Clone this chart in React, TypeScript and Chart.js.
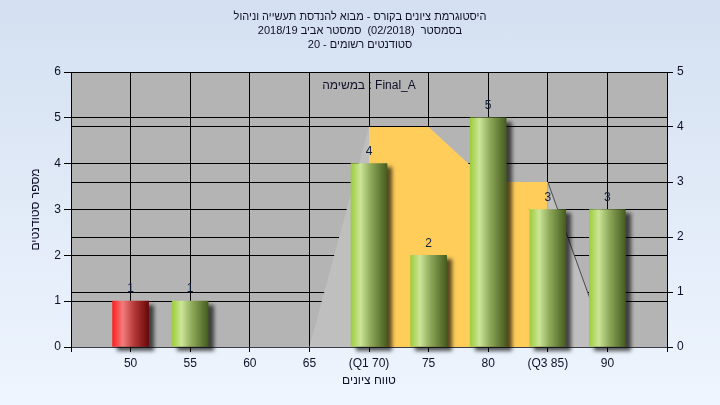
import { useEffect, useRef } from 'react';
import { Chart, registerables } from 'chart.js';

Chart.register(...registerables);

// Histogram bins and the number of students in each
const gradeBins = [50, 55, 60, 65, 70, 75, 80, 85, 90];
const binLabels = ['50', '55', '60', '65', '(Q1 70)', '75', '80', '(Q3 85)', '90'];
const studentCounts = [1, 1, 0, 0, 4, 2, 5, 3, 3];
const failingBins = [50];

// Background distribution outline (right axis)
const curveBins = [65, 70, 75, 80, 85, 90];
const curveValues = [0, 4, 4, 3, 3, 0];

// Inter-quartile band Q1..Q3 (right axis)
const quartileBins = [70, 75, 80, 85];
const quartileValues = [4, 4, 3, 3];

const titleLines = [
  'היסטוגרמת ציונים בקורס - מבוא להנדסת תעשייה וניהול',
  'בסמסטר  (02/2018)  סמסטר אביב 2018/19',
  'סטודנטים רשומים - 20',
];
const taskLabel = 'במשימה : Final_A';
const yTitle = 'מספר סטודנטים';
const xTitle = 'טווח ציונים';

const FONT = "'Liberation Sans', Arial, 'DejaVu Sans', sans-serif";
const TEXT = '#101028';

const greenStops: [number, string][] = [
  [0, '#9dcd3e'],
  [0.26, '#cce598'],
  [0.55, '#8ea95a'],
  [1, '#465c1f'],
];
const redStops: [number, string][] = [
  [0, '#ff1f1f'],
  [0.28, '#f27c7c'],
  [0.6, '#b43838'],
  [1, '#680808'],
];

const BAR_W = 36;

const barPoints = gradeBins
  .map((x, i) => ({ x, y: studentCounts[i] }))
  .filter((p) => p.y > 0);

const plotBackground = {
  id: 'plotBackground',
  beforeDraw(chart: any) {
    const { ctx, chartArea } = chart;
    ctx.save();
    ctx.fillStyle = '#b4b4b4';
    ctx.fillRect(chartArea.left, chartArea.top, chartArea.right - chartArea.left, chartArea.bottom - chartArea.top);
    ctx.restore();
  },
};

const barShadow = {
  id: 'barShadow',
  beforeDatasetDraw(chart: any, args: any) {
    if (args.meta.type !== 'bar') return;
    const c = chart.ctx;
    c.save();
    c.shadowColor = 'rgba(0,0,0,0.65)';
    c.shadowBlur = 4;
    c.shadowOffsetX = 5;
    c.shadowOffsetY = 4;
  },
  afterDatasetDraw(chart: any, args: any) {
    if (args.meta.type !== 'bar') return;
    chart.ctx.restore();
  },
};

const valueLabels = {
  id: 'valueLabels',
  afterDatasetsDraw(chart: any) {
    const { ctx } = chart;
    chart.data.datasets.forEach((ds: any, di: number) => {
      if (ds.type !== 'bar') return;
      const meta = chart.getDatasetMeta(di);
      meta.data.forEach((el: any, i: number) => {
        const v = ds.data[i].y;
        ctx.save();
        ctx.font = `12px ${FONT}`;
        ctx.fillStyle = '#0e1c3c';
        ctx.textAlign = 'center';
        ctx.textBaseline = 'middle';
        ctx.fillText(String(v), el.x, el.y - 12);
        ctx.restore();
      });
    });
  },
};

const taskCaption = {
  id: 'taskCaption',
  afterDraw(chart: any) {
    const { ctx, chartArea } = chart;
    ctx.save();
    ctx.font = `12px ${FONT}`;
    ctx.fillStyle = TEXT;
    ctx.textAlign = 'center';
    ctx.textBaseline = 'middle';
    ctx.fillText(taskLabel, (chartArea.left + chartArea.right) / 2, chartArea.top + 14);
    ctx.restore();
  },
};

export default function App() {
  const canvasRef = useRef<HTMLCanvasElement | null>(null);

  useEffect(() => {
    const canvas = canvasRef.current;
    if (!canvas) return;

    const chart = new Chart(canvas, {
      type: 'bar',
      data: {
        datasets: [
          {
            type: 'bar',
            data: barPoints,
            xAxisID: 'x',
            yAxisID: 'y',
            order: 0,
            barThickness: BAR_W,
            clip: false as any,
            borderWidth: 0,
            backgroundColor: (ctx: any) => {
              const ch = ctx.chart;
              const xs = ch.scales?.x;
              if (ctx.type !== 'data' || !xs) return '#9dcd3e';
              const bin = barPoints[ctx.dataIndex].x;
              const cx = xs.getPixelForValue(bin);
              if (!Number.isFinite(cx)) return '#9dcd3e';
              const g = ch.ctx.createLinearGradient(cx - BAR_W / 2, 0, cx + BAR_W / 2, 0);
              const stops = failingBins.includes(bin) ? redStops : greenStops;
              stops.forEach(([o, c]) => g.addColorStop(o, c));
              return g;
            },
          } as any,
          {
            type: 'line',
            data: quartileBins.map((x, i) => ({ x, y: quartileValues[i] })),
            xAxisID: 'x',
            yAxisID: 'y2',
            order: 1,
            fill: 'origin',
            backgroundColor: '#ffcd5a',
            borderColor: 'rgba(0,0,0,0)',
            borderWidth: 0,
            pointRadius: 0,
            tension: 0,
          } as any,
          {
            type: 'line',
            data: curveBins.map((x, i) => ({ x, y: curveValues[i] })),
            xAxisID: 'x',
            yAxisID: 'y2',
            order: 2,
            fill: 'origin',
            backgroundColor: '#bfbfbf',
            borderColor: 'rgba(0,0,0,0)',
            borderWidth: 1,
            pointRadius: 0,
            tension: 0,
            segment: {
              borderColor: (s: any) => (s.p0DataIndex === curveBins.length - 2 ? '#4a4a4a' : 'rgba(0,0,0,0)'),
            },
          } as any,
        ],
      },
      options: {
        responsive: false,
        animation: false,
        events: [],
        layout: { padding: 0 },
        plugins: {
          legend: { display: false },
          tooltip: { enabled: false },
          title: {
            display: true,
            text: titleLines,
            color: TEXT,
            font: { family: FONT, size: 11, weight: 'normal', lineHeight: 13.8 / 11 },
            padding: { top: 10, bottom: 20.6 },
          },
        },
        scales: {
          x: {
            type: 'linear',
            min: 45,
            max: 95,
            offset: false,
            afterFit: (s: any) => {
              s.height = 58;
            },
            ticks: {
              stepSize: 5,
              autoSkip: false,
              maxRotation: 0,
              padding: 4,
              color: TEXT,
              font: { family: FONT, size: 12 },
              callback: (v: any) => {
                const i = gradeBins.indexOf(Number(v));
                return i >= 0 ? binLabels[i] : '';
              },
            },
            grid: { color: '#000', lineWidth: 1, tickLength: 5, offset: false, drawOnChartArea: true },
            border: { color: '#3c3c48', width: 1 },
            title: {
              display: true,
              text: xTitle,
              color: TEXT,
              font: { family: FONT, size: 12 },
              padding: { top: 0, bottom: 17 },
            },
          },
          y: {
            type: 'linear',
            position: 'left',
            min: 0,
            max: 6,
            afterFit: (s: any) => {
              s.width = 71;
            },
            ticks: { stepSize: 1, padding: 3, color: TEXT, font: { family: FONT, size: 12 } },
            grid: { color: '#000', lineWidth: 1, tickLength: 7 },
            border: { color: '#000', width: 1 },
            title: {
              display: true,
              text: yTitle,
              color: TEXT,
              font: { family: FONT, size: 12 },
              padding: { top: 28, bottom: 0 },
            },
          },
          y2: {
            type: 'linear',
            position: 'right',
            min: 0,
            max: 5,
            afterFit: (s: any) => {
              s.width = 53;
            },
            ticks: { stepSize: 1, padding: 4, color: TEXT, font: { family: FONT, size: 12 } },
            grid: { color: '#000', lineWidth: 1, tickLength: 6, drawOnChartArea: true },
            border: { color: '#000', width: 1 },
          },
        },
      },
      plugins: [plotBackground, barShadow, valueLabels, taskCaption],
    } as any);

    return () => chart.destroy();
  }, []);

  return (
    <div
      style={{
        position: 'absolute',
        left: 0,
        top: 0,
        width: 720,
        height: 405,
        background: 'linear-gradient(to bottom, #d4e0f1 0%, #eef5fe 100%)',
      }}
    >
      <canvas ref={canvasRef} width={720} height={405} style={{ display: 'block' }} />
    </div>
  );
}
